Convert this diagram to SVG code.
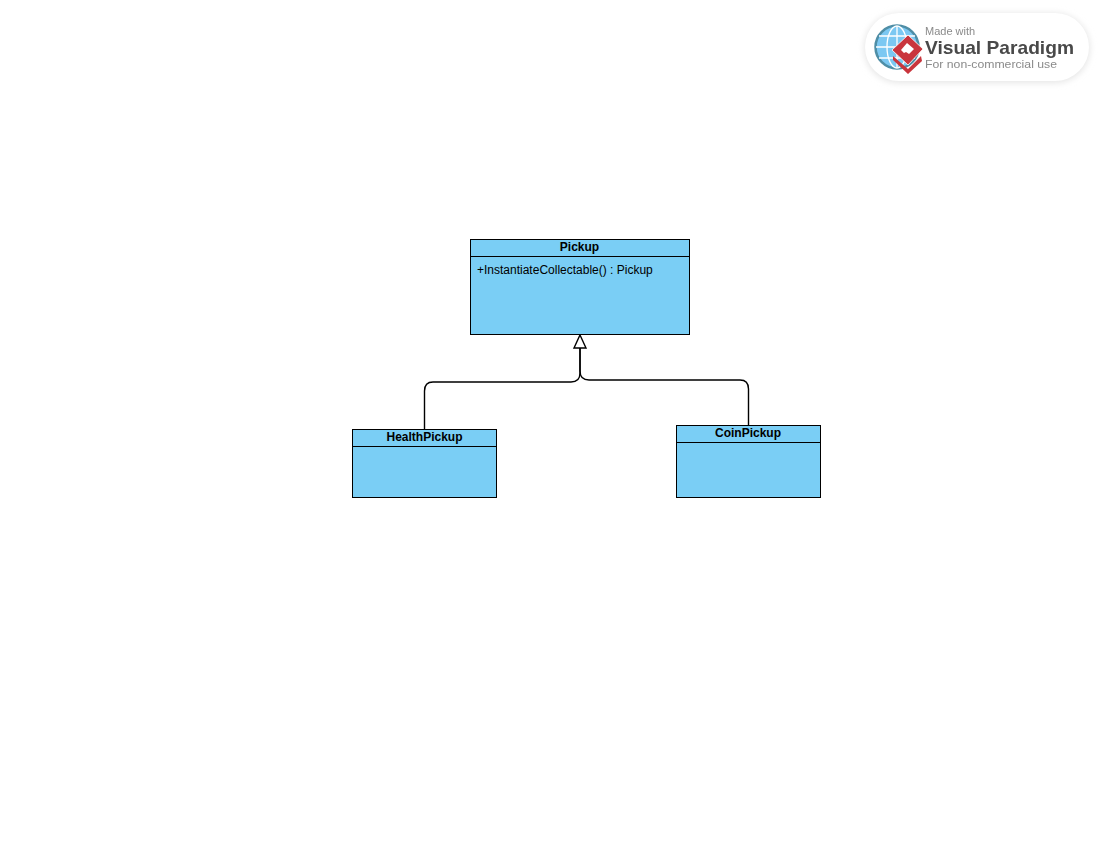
<svg xmlns="http://www.w3.org/2000/svg" width="1100" height="850" viewBox="0 0 1100 850">
  <style>
    .box { fill: #7acef5; stroke: #000; stroke-width: 1; }
    .sep { stroke: #000; stroke-width: 1; fill: none; }
    .title { font: bold 12px "Liberation Sans", Arial, sans-serif; fill: #000; text-anchor: middle; }
    .member { font: 12px "Liberation Sans", Arial, sans-serif; fill: #000; }
    .edge { fill: none; stroke: #000; stroke-width: 1.4; }
    .b1 { font: 11px "Liberation Sans", Arial, sans-serif; fill: #8a8a8a; }
    .b2 { font: bold 19px "Liberation Sans", Arial, sans-serif; fill: #4a4a4a; }
  </style>
  <defs>
    <filter id="badgeShadow" x="-10%" y="-20%" width="120%" height="140%">
      <feGaussianBlur stdDeviation="3"/>
    </filter>
    <filter id="soft" x="-5%" y="-5%" width="110%" height="110%">
      <feGaussianBlur stdDeviation="0.4"/>
    </filter>
    <marker id="gen" markerUnits="userSpaceOnUse" markerWidth="16" markerHeight="16" refX="7" refY="14" orient="0" overflow="visible">
      <path d="M7 1 L13 14 L1 14 Z" fill="#fff" stroke="#000" stroke-width="1.4"/>
    </marker>
  </defs>

  <g id="badge">
    <rect x="864" y="13" width="226" height="70" rx="35" fill="#e6e6e6" filter="url(#badgeShadow)"/>
    <rect x="865" y="13" width="224" height="68" rx="34" fill="#fff"/>
    <g filter="url(#soft)">
      <circle cx="897" cy="47" r="21.500" fill="#7cc8f2" stroke="#4f8ea6" stroke-width="2.500"/>
      <g fill="none" stroke="#fff" stroke-width="1.300">
        <ellipse cx="897" cy="47" rx="10" ry="21"/>
        <path d="M897 26V68M876 47H918M879 36H915M879 58H915"/>
      </g>
      <path d="M893 56 L908 69 L921 56 L922 61 L908 74 L893 60 Z" fill="#c9363c"/>
      <path d="M908 35 L923 49 L908 65 L892 50 Z" fill="#c9363c" stroke="#fff" stroke-width="0.800"/>
      <path d="M907 43 L914 49 L909 54 L906 52 L904 53 L901 50 Z" fill="#fff"/>
      <text class="b1" x="925" y="34.500">Made with</text>
      <text class="b2" x="925" y="54" textLength="149" lengthAdjust="spacingAndGlyphs">Visual Paradigm</text>
      <text class="b1" x="925" y="68" textLength="132" lengthAdjust="spacingAndGlyphs">For non-commercial use</text>
    </g>
  </g>

  <g id="connectors">
    <path class="edge" d="M424.500 429 V391 Q424.500 382 433 382 H571 Q580 382 580 373 V348"/>
    <path class="edge" d="M748.500 425 V389 Q748.500 380 740 380 H589 Q580 380 580 371 V348" marker-end="url(#gen)"/>
  </g>

  <g id="node-pickup">
    <rect class="box" x="470.500" y="239.500" width="219" height="95"/>
    <path class="sep" d="M470.500 256.500H689.500"/>
    <text class="title" x="579.500" y="251">Pickup</text>
    <text class="member" x="477" y="274">+InstantiateCollectable() : Pickup</text>
  </g>

  <g id="node-healthpickup">
    <rect class="box" x="352.500" y="429.500" width="144" height="68"/>
    <path class="sep" d="M352.500 446.500H496.500"/>
    <text class="title" x="424.500" y="441">HealthPickup</text>
  </g>

  <g id="node-coinpickup">
    <rect class="box" x="676.500" y="425.500" width="144" height="72"/>
    <path class="sep" d="M676.500 442.500H820.500"/>
    <text class="title" x="748" y="437">CoinPickup</text>
  </g>
</svg>
